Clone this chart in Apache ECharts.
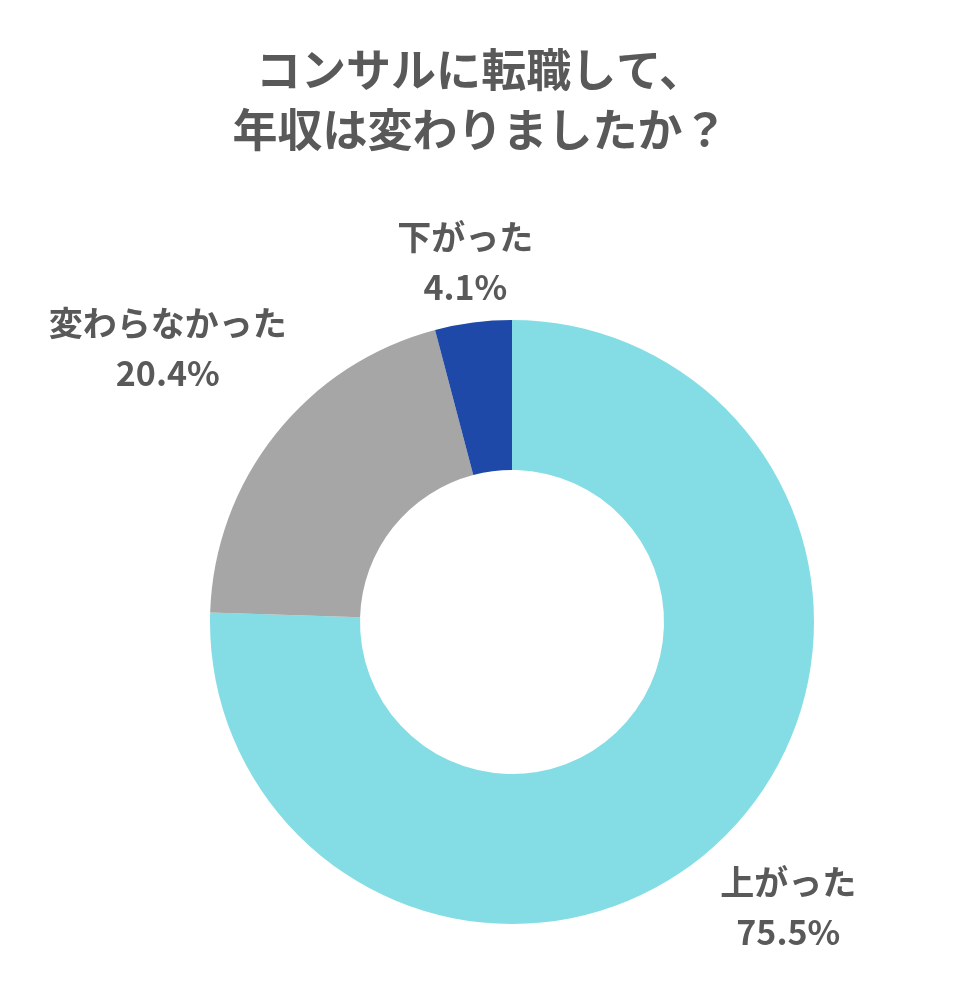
<!DOCTYPE html>
<html>
<head>
<meta charset="utf-8">
<script src="https://cdn.jsdelivr.net/npm/echarts@6/dist/echarts.min.js"></script>
<style>
  html, body { margin: 0; padding: 0; background: #fff; }
  #chart { width: 960px; height: 988px; }
</style>
</head>
<body>
<div id="chart"></div>
<script>
const categories = ['上がった', '変わらなかった', '下がった'];
const values = [75.5, 20.4, 4.1];
const colors = ['#84DDE5', '#A6A6A6', '#1E49A8'];
const titleText = 'コンサルに転職して、\n年収は変わりましたか？';

const CX = 512, CY = 622;
const labelDist = [397, 440, 363];

const total = values.reduce((a, b) => a + b, 0);
function midAngle(i) {
  let before = 0;
  for (let k = 0; k < i; k++) before += values[k];
  const frac = (before + values[i] / 2) / total;
  return frac * Math.PI * 2; // clockwise from top
}

const chart = echarts.init(document.getElementById('chart'));
chart.setOption({
  backgroundColor: '#ffffff',
  animation: false,
  title: {
    text: titleText,
    left: 'center',
    top: 35,
    textStyle: {
      fontFamily: 'Noto Sans CJK JP',
      fontSize: 45,
      fontWeight: 'bold',
      color: '#595959',
      lineHeight: 60
    }
  },
  series: [{
    type: 'pie',
    center: [CX, CY],
    radius: [152, 302],
    startAngle: 90,
    clockwise: true,
    silent: true,
    label: {
      show: true,
      position: 'outside',
      formatter: (p) => p.name + '\n' + p.value.toFixed(1) + '%',
      fontFamily: 'Noto Sans CJK JP',
      fontSize: 34,
      fontWeight: 'bold',
      color: '#595959',
      lineHeight: 50,
      align: 'center',
      overflow: 'none',
      width: 400
    },
    labelLine: { show: false },
    labelLayout: function (params) {
      const i = params.dataIndex;
      const a = midAngle(i);
      return {
        x: CX + Math.sin(a) * labelDist[i],
        y: CY - Math.cos(a) * labelDist[i],
        align: 'center',
        verticalAlign: 'middle'
      };
    },
    data: categories.map((c, i) => ({
      name: c,
      value: values[i],
      itemStyle: { color: colors[i] }
    }))
  }]
});
</script>
</body>
</html>
